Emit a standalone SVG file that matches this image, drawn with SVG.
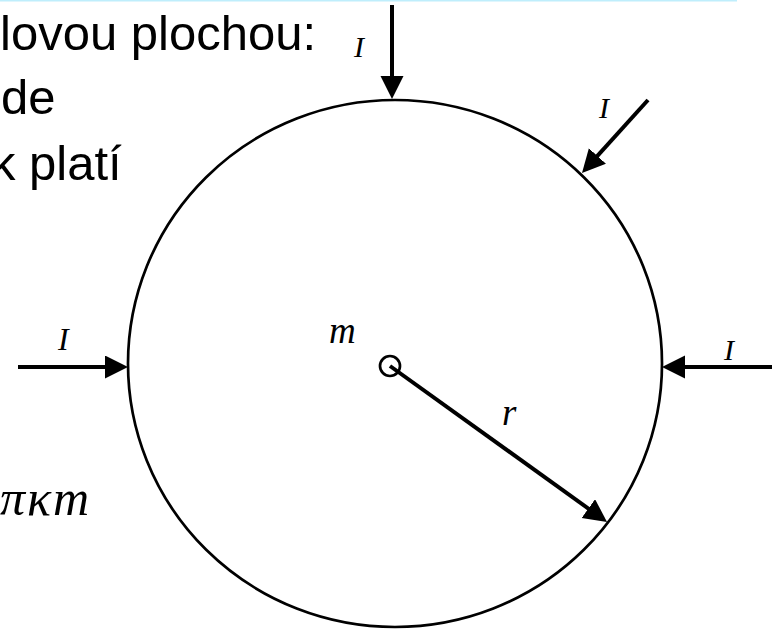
<svg xmlns="http://www.w3.org/2000/svg" width="777" height="630" viewBox="0 0 777 630">
  <style>
    .body { font-family: "Liberation Sans", Arial, sans-serif; font-size: 49px; fill: #000; }
    .math { font-family: "Liberation Serif", "Times New Roman", serif; font-style: italic; fill: #000; }
    .arrow { stroke: #000; stroke-width: 4; fill: none; marker-end: url(#head); }
    .outline { stroke: #000; stroke-width: 2.7; fill: none; }
  </style>
  <defs>
    <marker id="head" markerUnits="userSpaceOnUse" markerWidth="24" markerHeight="24" refX="3" refY="11.5" orient="auto" viewBox="0 0 24 24">
      <path d="M0,0 L23,11.5 L0,23 Z" fill="#000"/>
    </marker>
  </defs>
  <rect width="777" height="630" fill="#fff"/>
  <line x1="0" y1="0.5" x2="737" y2="0.5" stroke="#bfeefc" stroke-width="2"/>

  <g id="text-block">
    <text class="body" x="0" y="50">lovou plochou:</text>
    <text class="body" x="1" y="114">de</text>
    <text class="body" x="-9" y="180">k platí</text>
    <text class="math" x="0" y="515" font-size="50" letter-spacing="2">πκm</text>
  </g>

  <g id="sphere">
    <ellipse class="outline" cx="395" cy="363.5" rx="267" ry="263.5"/>
  </g>

  <g id="mass">
    <circle class="outline" cx="390" cy="366" r="10"/>
    <text class="math" x="329" y="343" font-size="37">m</text>
  </g>

  <g id="connectors">
    <line class="arrow" x1="392" y1="5" x2="392" y2="79"/>
    <line class="arrow" x1="648" y1="100" x2="595.4" y2="158.2"/>
    <line class="arrow" x1="18" y1="367" x2="108" y2="367"/>
    <line class="arrow" x1="772" y1="367" x2="682" y2="367"/>
    <line class="arrow" x1="390" y1="366" x2="590.8" y2="510.3" stroke-width="3.5"/>
  </g>

  <g id="labels">
    <text class="math" x="354" y="57" font-size="30">I</text>
    <text class="math" x="599" y="118" font-size="30">I</text>
    <text class="math" x="58" y="350" font-size="32">I</text>
    <text class="math" x="724" y="360" font-size="30">I</text>
    <text class="math" x="502" y="425" font-size="37">r</text>
  </g>
</svg>
